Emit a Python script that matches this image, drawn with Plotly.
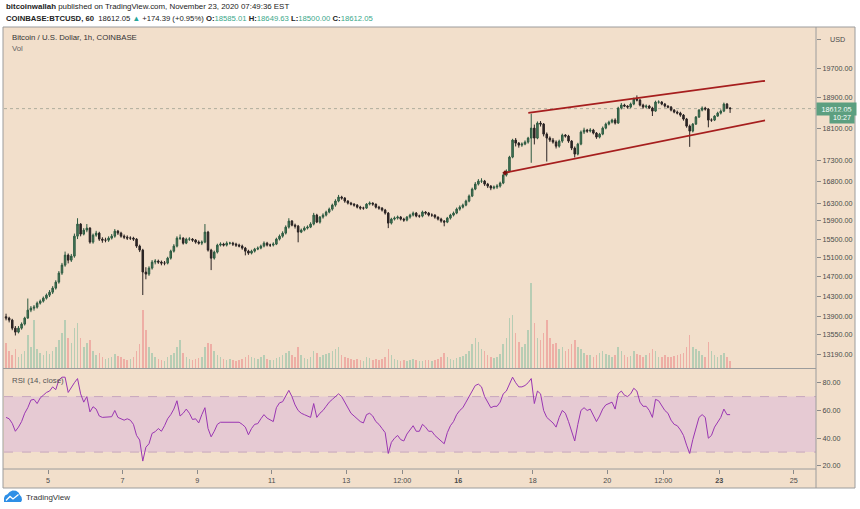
import math
import pandas as pd
import plotly.graph_objects as go

# ---------------- data (2-hour candles) ----------------
first_open = 13900
closes = [
    13874, 13835,
    13680, 13604, 13680, 13758, 13874, 14030, 14069, 14089, 14168, 14208, 14268, 14328,
    14388, 14470, 14592, 14778, 14944, 15155, 15049, 15134, 15564, 15829, 15608, 15696,
    15740, 15434, 15586, 15630, 15499, 15477, 15477, 15521, 15564, 15674, 15630, 15564,
    15542, 15521, 15521, 15499, 15348, 15262, 14799, 14757, 14882, 15007, 15028, 15007,
    14986, 14986, 15091, 15240, 15348, 15521, 15521, 15412, 15499, 15499, 15477, 15434,
    15412, 15434, 15652, 15262, 15091, 15219, 15369, 15391, 15369, 15412, 15412, 15391,
    15369, 15348, 15305, 15240, 15198, 15240, 15283, 15305, 15348, 15412, 15369, 15369,
    15391, 15499, 15564, 15630, 15762, 15896, 15806, 15784, 15652, 15696, 15740, 15762,
    15829, 16030, 15873, 15985, 16030, 16098, 16165, 16256, 16348, 16440, 16417, 16348,
    16302, 16279, 16256, 16210, 16188, 16188, 16279, 16302, 16279, 16210, 16188, 16143,
    16075, 15851, 15940, 15963, 15985, 15940, 15918, 15985, 16030, 16075, 16008, 16008,
    16098, 16075, 16030, 16030, 15985, 15940, 15896, 15873, 15963, 16030, 16075, 16165,
    16210, 16256, 16348, 16463, 16625, 16742, 16813, 16813, 16742, 16695, 16649, 16672,
    16695, 16766, 16955, 17050, 17388, 17808, 17733, 17683, 17708, 17758, 17858, 18110,
    17858, 18238, 18212, 17958, 17858, 17808, 17758, 17658, 17783, 17933, 17908, 17783,
    17609, 17462, 17708, 18009, 18059, 18034, 18059, 17984, 17883, 17958, 18110, 18212,
    18263, 18315, 18238, 18626, 18704, 18678, 18652, 18730, 18862, 18835, 18704, 18652,
    18678, 18626, 18547, 18783, 18783, 18730, 18678, 18652, 18573, 18521, 18495, 18443,
    18341, 18161, 18034, 18212, 18392, 18573, 18626, 18599, 18315, 18315, 18417, 18495,
    18547, 18730, 18626, 18612.05,
]
highs = [
    13960, 13900,
    13860, 13720, 13720, 13790, 13900, 14260, 14110, 14130, 14200, 14240, 14300, 14360,
    14430, 14510, 14630, 14820, 14990, 15230, 15190, 15180, 15620, 15960, 15850, 15740,
    15830, 15760, 15620, 15680, 15660, 15540, 15530, 15560, 15610, 15720, 15700, 15660,
    15600, 15580, 15560, 15550, 15520, 15380, 15290, 14900, 14920, 15050, 15070, 15060,
    15040, 15030, 15120, 15270, 15390, 15560, 15600, 15540, 15530, 15540, 15520, 15500,
    15470, 15470, 15830, 15680, 15290, 15250, 15400, 15430, 15420, 15450, 15440, 15440,
    15420, 15400, 15380, 15330, 15270, 15270, 15310, 15340, 15380, 15450, 15440, 15400,
    15430, 15530, 15600, 15670, 15800, 15960, 15920, 15840, 15810, 15730, 15780, 15800,
    15870, 16080, 16060, 16010, 16070, 16130, 16200, 16290, 16390, 16490, 16470, 16440,
    16370, 16330, 16300, 16280, 16240, 16220, 16300, 16340, 16320, 16290, 16240, 16210,
    16170, 16100, 15970, 16000, 16020, 16010, 15970, 16010, 16060, 16110, 16100, 16040,
    16130, 16120, 16100, 16070, 16050, 16000, 15970, 15920, 15990, 16060, 16110, 16200,
    16250, 16290, 16380, 16500, 16660, 16790, 16860, 16880, 16840, 16770, 16720, 16710,
    16740, 16800, 16990, 17090, 17420, 17840, 17860, 17760, 17750, 17800, 17890, 18480,
    18200, 18280, 18290, 18240, 18000, 17900, 17860, 17800, 17820, 17970, 17960, 17940,
    17810, 17650, 17740, 18050, 18120, 18090, 18110, 18090, 18010, 17990, 18150, 18250,
    18300, 18350, 18360, 18660, 18760, 18740, 18700, 18770, 18900, 18960, 18870, 18740,
    18720, 18710, 18660, 18820, 18830, 18810, 18760, 18700, 18680, 18600, 18560, 18530,
    18470, 18370, 18200, 18240, 18420, 18600, 18670, 18660, 18620, 18360, 18440, 18530,
    18590, 18770, 18760, 18650,
]
lows = [
    13830, 13790,
    13640, 13540, 13580, 13650, 13730, 13860, 13990, 14020, 14060, 14140, 14180, 14240,
    14290, 14350, 14440, 14560, 14740, 14910, 14980, 15010, 15100, 15500, 15560, 15580,
    15650, 15400, 15400, 15550, 15460, 15420, 15430, 15440, 15490, 15530, 15590, 15530,
    15500, 15480, 15480, 15460, 15310, 15220, 14330, 14650, 14720, 14850, 14960, 14970,
    14940, 14940, 14960, 15060, 15210, 15320, 15480, 15380, 15390, 15460, 15440, 15400,
    15380, 15370, 15410, 15230, 14840, 15060, 15190, 15340, 15340, 15340, 15380, 15350,
    15330, 15320, 15270, 15150, 15160, 15170, 15210, 15260, 15280, 15320, 15340, 15330,
    15340, 15370, 15470, 15530, 15600, 15730, 15780, 15730, 15430, 15630, 15670, 15710,
    15740, 15800, 15850, 15840, 15950, 16000, 16070, 16130, 16220, 16320, 16380, 16310,
    16270, 16250, 16220, 16180, 16150, 16150, 16170, 16250, 16240, 16180, 16150, 16110,
    16040, 15740, 15820, 15910, 15930, 15910, 15880, 15890, 15950, 16000, 15980, 15970,
    15980, 16040, 16000, 15990, 15950, 15910, 15860, 15780, 15850, 15930, 16000, 16050,
    16130, 16180, 16230, 16320, 16440, 16600, 16710, 16770, 16700, 16650, 16600, 16620,
    16630, 16660, 16740, 16920, 17020, 17360, 17650, 17620, 17640, 17680, 17720, 17250,
    17700, 17830, 18150, 17900, 17280, 17760, 17720, 17600, 17620, 17740, 17870, 17740,
    17560, 17380, 17430, 17680, 17960, 17990, 18000, 17950, 17840, 17850, 17930, 18080,
    18180, 18230, 18200, 18220, 18590, 18650, 18610, 18620, 18700, 18800, 18670, 18610,
    18620, 18600, 18420, 18530, 18740, 18700, 18640, 18620, 18540, 18490, 18460, 18400,
    18300, 18120, 17640, 18000, 18190, 18370, 18540, 18560, 18130, 18270, 18290, 18400,
    18460, 18520, 18600, 18500,
]
volumes = [
    1750, 1260,
    980, 1400, 840, 1050, 1260, 2310, 1540, 3360, 1400, 1120, 980, 1260,
    1050, 1260, 1540, 1960, 2450, 3360, 2100, 1750, 2800, 3150, 2100, 1540,
    1750, 1960, 1260, 980, 1120, 840, 700, 770, 840, 1050, 910, 840,
    700, 630, 700, 840, 1260, 1680, 4060, 2660, 1540, 1120, 840, 700,
    630, 560, 840, 980, 1120, 1540, 1960, 1120, 840, 700, 630, 700,
    770, 840, 1540, 1750, 1680, 1260, 980, 840, 700, 630, 700, 630,
    560, 630, 700, 840, 980, 840, 770, 700, 840, 980, 700, 630,
    630, 770, 840, 980, 1120, 1260, 980, 840, 1540, 980, 770, 700,
    840, 1260, 1120, 840, 980, 1050, 1120, 1260, 1400, 1540, 980, 840,
    770, 700, 630, 700, 630, 560, 840, 770, 630, 700, 630, 700,
    840, 1400, 980, 700, 630, 560, 630, 560, 630, 700, 630, 560,
    560, 630, 630, 560, 630, 700, 840, 1120, 840, 700, 630, 770,
    840, 910, 1050, 1260, 1680, 2100, 1820, 1400, 1260, 980, 840, 770,
    840, 1050, 1680, 2100, 3500, 3710, 2450, 1820, 1540, 1680, 2660, 5950,
    3150, 2100, 1960, 2450, 3360, 2100, 1680, 1750, 1400, 1540, 1260, 1400,
    1680, 1960, 1540, 1400, 1120, 980, 980, 840, 980, 1120, 1260, 1050,
    980, 840, 980, 1540, 1260, 980, 840, 910, 1260, 1050, 980, 840,
    980, 1120, 1400, 1260, 840, 840, 980, 840, 840, 910, 980, 1050,
    1120, 1540, 2310, 1540, 1400, 1260, 980, 840, 1820, 1260, 980, 840,
    980, 1120, 840, 560,
]
rsi = [
    55, 54,
    50.7, 45, 48, 52, 58, 62, 67.5, 68, 65, 69, 71, 73,
    74, 77, 75, 82, 84, 84, 73, 77, 80, 83, 72, 66,
    70, 59, 62.7, 61, 56, 55, 55, 55, 55.5, 60, 55, 54,
    53, 54, 53, 50, 42, 38.7, 23.5, 33.5, 36, 43.5, 44.7, 47,
    45, 49, 54, 57, 61, 67, 56, 58, 61, 58, 53.5, 54,
    51, 57, 62, 47, 41, 45, 50, 51.5, 51.5, 51, 51.5, 51,
    51, 51.5, 50, 48, 42.5, 47, 50, 50.5, 54, 57, 54.5, 53,
    52, 62, 65.5, 66.3, 70, 74.5, 70, 64, 60, 58, 57, 56,
    55, 65, 55, 58, 60, 63, 66, 68, 70, 72, 70, 66,
    62, 58, 56, 54, 52, 51, 57, 58, 56, 52, 50, 47,
    44, 29, 37, 40, 42, 39, 38, 43, 46, 49, 45, 45,
    50, 48, 45, 45, 42, 40, 38, 36, 44, 49, 52, 57,
    60, 62, 66, 70, 75, 78, 79, 77, 70, 66, 62, 63,
    63, 66, 72, 74, 79, 84, 80, 77, 77, 78, 80, 83,
    65, 74, 72, 60, 55, 53, 51, 48, 55, 60, 58, 52,
    45, 38, 50, 60, 62, 60, 61, 57, 52, 56, 61, 64,
    65, 66, 61, 72, 74, 71, 70, 72, 76, 74, 66, 63,
    63, 60, 55, 68, 67, 63, 60, 58, 53, 50, 49, 46,
    42, 35, 29, 39, 47, 55, 57, 55, 40, 42, 48, 52,
    55, 61, 57, 57,
]

# trend channel drawn on the chart (time, price)
upper_x = ["2020-11-17 21:07", "2020-11-24 05:28"]
upper_y = [18500, 19352]
lower_x = ["2020-11-17 06:07", "2020-11-24 05:28"]
lower_y = [17010, 18305]

price_ticks = [13190, 13550, 13900, 14300, 14700, 15100, 15500, 15900, 16300,
               16800, 17300, 18100, 18900, 19700, 20500]
rsi_ticks = [20, 40, 60, 80]
date_ticks = ["2020-11-05", "2020-11-07", "2020-11-09", "2020-11-11", "2020-11-13",
              "2020-11-14 12:00", "2020-11-16", "2020-11-18", "2020-11-20",
              "2020-11-21 12:00", "2020-11-23", "2020-11-25"]
date_labels = ["5", "7", "9", "11", "13", "12:00", "<b>16</b>", "18", "20", "12:00",
               "<b>23</b>", "25"]

header_user = "bitcoinwallah"
header_when = "November 23, 2020 07:49:36 EST"
symbol = "COINBASE:BTCUSD, 60"
last_price = "18612.05"
change = "+174.39 (+0.95%)"
ohlc = [("O", "18585.01"), ("H", "18649.63"), ("L", "18500.00"), ("C", "18612.05")]
countdown = "10:27"
currency = "USD"

# ---------------- styling ----------------
BG = "#f2dfcb"
FONT = "Liberation Sans, Arial, sans-serif"
AXC = "#4a4a4a"
LINEC = "#9c9c9c"

opens = [first_open] + closes[:-1]
highs = [max(h, o, c) for h, o, c in zip(highs, opens, closes)]
lows = [min(l, o, c) for l, o, c in zip(lows, opens, closes)]
times = pd.date_range("2020-11-03 21:00", periods=len(closes), freq="2h")
vol_colors = ["rgba(70,170,135,0.34)" if c >= o else "rgba(232,80,90,0.34)"
              for o, c in zip(opens, closes)]

W, H = 860, 509
ML, MR, MT, MB = 4, 44, 27, 40
PW, PH = W - ML - MR, H - MT - MB


def px(x):
    return (x - ML) / PW


def py(y):
    return (H - MB - y) / PH


main_bottom = py(368.5)
rsi_top = py(369)

fig = go.Figure()
fig.add_trace(go.Bar(x=times, y=volumes, marker=dict(color=vol_colors, line=dict(width=0)),
                     width=3.6e6, yaxis="y2", hoverinfo="skip", showlegend=False))
fig.add_trace(go.Candlestick(
    x=times, open=opens, high=highs, low=lows, close=closes,
    increasing=dict(line=dict(color="#2d5a40", width=1), fillcolor="#4a7c5c"),
    decreasing=dict(line=dict(color="#2b2424", width=1), fillcolor="#2b2424"),
    whiskerwidth=0, hoverinfo="skip", showlegend=False, yaxis="y"))
fig.add_trace(go.Scatter(x=upper_x, y=upper_y, mode="lines",
                         line=dict(color="#a61e1e", width=1.8), yaxis="y",
                         hoverinfo="skip", showlegend=False))
fig.add_trace(go.Scatter(x=lower_x, y=lower_y, mode="lines",
                         line=dict(color="#a61e1e", width=1.8), yaxis="y",
                         hoverinfo="skip", showlegend=False))
fig.add_trace(go.Scatter(x=lower_x[:1], y=lower_y[:1], mode="markers",
                         marker=dict(color="#7a1010", size=4, symbol="diamond"),
                         yaxis="y", hoverinfo="skip", showlegend=False))
fig.add_trace(go.Scatter(x=times, y=rsi, mode="lines", line=dict(color="#9a36b2", width=1),
                         yaxis="y3", hoverinfo="skip", showlegend=False))

tickfont = dict(family=FONT, size=7.2, color=AXC)
price_text = [f"{v:.2f}" for v in price_ticks]
price_text[-1] = ""  # top label is covered by the currency badge
fig.update_layout(
    width=W, height=H,
    margin=dict(l=ML, r=MR, t=MT, b=MB),
    paper_bgcolor="white", plot_bgcolor=BG,
    font=dict(family=FONT, size=8, color="#333"),
    showlegend=False, bargap=0,
    xaxis=dict(domain=[0, 1], anchor="y3", type="date",
               range=["2020-11-03 19:41", "2020-11-25 14:17"],
               tickvals=date_ticks, ticktext=date_labels,
               ticks="outside", ticklen=4, tickcolor="#8a8a8a", tickfont=tickfont,
               showgrid=False, zeroline=False, showline=False,
               rangeslider=dict(visible=False), automargin=False),
    yaxis=dict(domain=[main_bottom, 1], anchor="x", side="right", type="log",
               range=[4.1115, 4.3195],
               tickvals=price_ticks, ticktext=price_text,
               ticks="outside", ticklen=4, tickcolor="#8a8a8a", tickfont=tickfont,
               showgrid=False, zeroline=False, showline=False, automargin=False),
    yaxis2=dict(overlaying="y", range=[0, 23900], visible=False, showgrid=False),
    yaxis3=dict(domain=[0, rsi_top], anchor="x", side="right", range=[17.8, 89.9],
                tickvals=rsi_ticks, ticktext=[f"{v:.2f}" for v in rsi_ticks],
                ticks="outside", ticklen=4, tickcolor="#8a8a8a", tickfont=tickfont,
                showgrid=False, zeroline=False, showline=False, automargin=False),
)

shapes = [
    dict(type="rect", xref="paper", yref="paper", x0=px(3), x1=px(855), y0=py(488), y1=py(27),
         fillcolor=BG, line=dict(color=LINEC, width=1), layer="below"),
    dict(type="rect", xref="x domain", yref="y3", x0=0, x1=1, y0=30, y1=70,
         fillcolor="#e6cad3", line=dict(width=0), layer="below"),
    dict(type="line", xref="x domain", yref="y3", x0=0, x1=1, y0=70, y1=70,
         line=dict(color="#c6a6bd", width=1, dash="dash"), layer="below"),
    dict(type="line", xref="x domain", yref="y3", x0=0, x1=1, y0=30, y1=30,
         line=dict(color="#c6a6bd", width=1, dash="dash"), layer="below"),
    dict(type="line", xref="x domain", yref="y", x0=0, x1=1,
         y0=float(last_price), y1=float(last_price),
         line=dict(color="#b0ae9e", width=1, dash="dot"), layer="below"),
    dict(type="line", xref="paper", yref="paper", x0=px(3), x1=1, y0=main_bottom, y1=main_bottom,
         line=dict(color=LINEC, width=1)),
    dict(type="line", xref="paper", yref="paper", x0=px(3), x1=1, y0=0, y1=0,
         line=dict(color=LINEC, width=1)),
    dict(type="line", xref="paper", yref="paper", x0=1, x1=1, y0=py(488), y1=py(27),
         line=dict(color=LINEC, width=1)),
]


def lp(pts):
    return " L ".join(f"{px(a):.5f},{py(b):.5f}" for a, b in pts)


logo = ("M " + f"{px(4):.5f},{py(502):.5f}" + " L " +
        lp([(4, 498), (5, 495.5), (7.5, 494.2), (9.5, 492), (12.5, 490.6), (16, 490.8),
            (18.5, 492.5), (19.8, 495), (21.5, 497), (22, 500), (21, 502)]) + " Z")
shapes.append(dict(type="path", xref="paper", yref="paper", path=logo,
                   fillcolor="#2e8fe6", line=dict(width=0)))
zig = "M " + lp([(6, 500.5), (10, 496.5), (13, 499), (18.5, 494.5)])
shapes.append(dict(type="path", xref="paper", yref="paper", path=zig,
                   line=dict(color="white", width=1.3)))
fig.update_layout(shapes=shapes)

teal = "#3aa88a"
line2 = (f"<b>{symbol}</b>  {last_price} <span style='color:#26a69a'>▲</span> {change} " +
         " ".join(f"<b>{k}:</b><span style='color:{teal}'>{v}</span>" for k, v in ohlc))
ann = [
    dict(xref="paper", yref="paper", x=px(4), y=py(7), xanchor="left", yanchor="middle",
         text=f"<b>{header_user}</b> published on TradingView.com, {header_when}",
         showarrow=False, font=dict(family=FONT, size=7.9, color="#222")),
    dict(xref="paper", yref="paper", x=px(4), y=py(18), xanchor="left", yanchor="middle",
         text=line2, showarrow=False, font=dict(family=FONT, size=7.7, color="#222")),
    dict(xref="paper", yref="paper", x=px(10), y=py(37.5), xanchor="left", yanchor="middle",
         text="Bitcoin / U.S. Dollar, 1h, COINBASE", showarrow=False,
         font=dict(family=FONT, size=7.8, color="#333")),
    dict(xref="paper", yref="paper", x=px(10), y=py(48), xanchor="left", yanchor="middle",
         text="Vol", showarrow=False, font=dict(family=FONT, size=7.8, color="#666")),
    dict(xref="paper", yref="paper", x=px(10), y=py(380), xanchor="left", yanchor="middle",
         text="RSI (14, close)", showarrow=False, font=dict(family=FONT, size=7.8, color="#555")),
    dict(xref="paper", yref="y", x=1.0, y=math.log10(float(last_price)), xanchor="left",
         yanchor="middle", text=last_price, showarrow=False, bgcolor="#5c9f80",
         borderpad=1.5, width=36, font=dict(family=FONT, size=7.2, color="white")),
    dict(xref="paper", yref="y", x=px(855), y=math.log10(float(last_price)), xanchor="right",
         yanchor="middle", yshift=-9, text=countdown, showarrow=False, bgcolor="#5c9f80",
         borderpad=1, width=22, font=dict(family=FONT, size=7.2, color="white")),
    dict(xref="paper", yref="y", x=px(837), y=math.log10(price_ticks[-1]), xanchor="center",
         yanchor="middle", text=currency, showarrow=False,
         font=dict(family=FONT, size=7.2, color=AXC)),
    dict(xref="paper", yref="paper", x=px(24), y=py(497), xanchor="left", yanchor="middle",
         text="TradingView", showarrow=False, font=dict(family=FONT, size=8, color="#333")),
]
fig.update_layout(annotations=ann)

fig.write_html("out.html", config={"displayModeBar": False},
               post_script="document.body.style.margin='0px';document.body.style.padding='0px';")
